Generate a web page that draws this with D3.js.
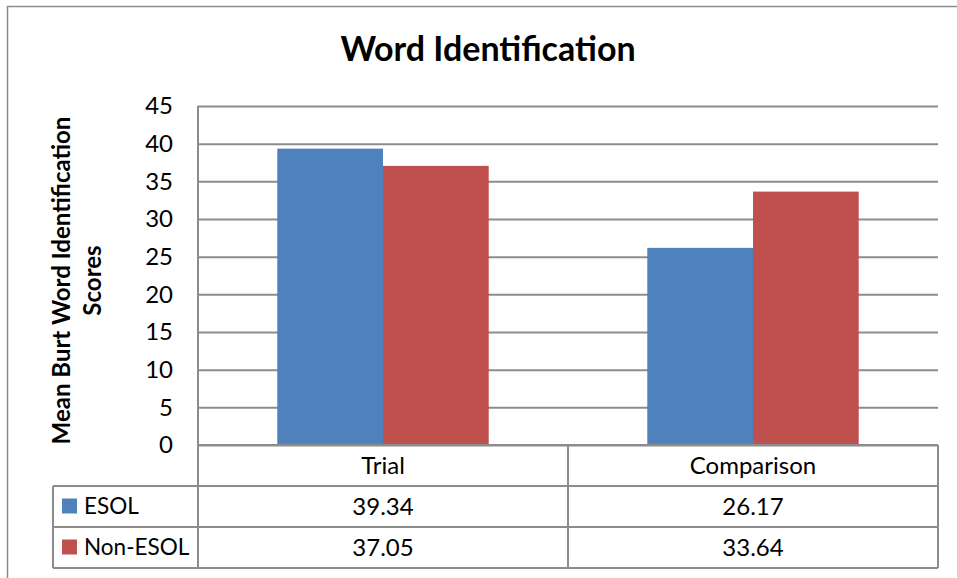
<!DOCTYPE html>
<html>
<head>
<meta charset="utf-8">
<script src="https://cdn.jsdelivr.net/npm/d3@7"></script>
<style>
  body { margin: 0; background: #fff; }
  svg { display: block; font-family: Lato, "Open Sans", sans-serif; }
</style>
</head>
<body>
<script>
// data
var categories = ["Trial", "Comparison"];
var seriesNames = ["ESOL", "Non-ESOL"];
var esolValues = [39.34, 26.17];
var nonEsolValues = [37.05, 33.64];
var yTicks = [0, 5, 10, 15, 20, 25, 30, 35, 40, 45];
var colors = ["#4f81bd", "#c0504d"];

var width = 957,
    height = 578,
    svg = d3.select("body").append("svg")
      .attr("width", width)
      .attr("height", height);

var grey = "#8c8c8c";
var plot = {left: 198, right: 938, top: 106, bottom: 445};
var rowH = 41;
var fs = "24px";

var table = categories.map(function(c, i) {
  return {cat: c, values: [esolValues[i], nonEsolValues[i]]};
});

// outer chart frame (cut off at right / bottom)
svg.append("rect")
    .attr("x", 7.5).attr("y", 6.5)
    .attr("width", 1000).attr("height", 1000)
    .attr("fill", "#fff")
    .attr("stroke", grey)
    .attr("stroke-width", 1.5);

var x0 = d3.scaleBand()
    .domain(categories)
    .range([plot.left, plot.right]);

var x1 = d3.scaleBand()
    .domain(seriesNames)
    .range([0, x0.bandwidth()])
    .paddingOuter(0.75);

var y = d3.scaleLinear()
    .domain([0, 45])
    .range([plot.bottom, plot.top]);

// gridlines + tick labels
var yAxis = svg.append("g")
    .attr("transform", "translate(" + plot.left + ",0)")
    .call(d3.axisLeft(y)
      .tickValues(yTicks)
      .tickSize(-(plot.right - plot.left))
      .tickPadding(25)
      .tickFormat(d3.format("d")));
yAxis.select(".domain").remove();
yAxis.selectAll(".tick line")
    .attr("stroke", grey)
    .attr("stroke-width", 2);
yAxis.selectAll(".tick text")
    .attr("fill", "#000")
    .style("font-size", fs)
    .style("font-family", "Lato, sans-serif");

// plot left edge
svg.append("line")
    .attr("x1", plot.left).attr("x2", plot.left)
    .attr("y1", plot.top).attr("y2", plot.bottom)
    .attr("stroke", grey).attr("stroke-width", 2);

// bars
svg.append("g").selectAll("g")
  .data(table)
  .join("g")
    .attr("transform", function(d) { return "translate(" + x0(d.cat) + ",0)"; })
  .selectAll("rect")
  .data(function(d) { return d.values.map(function(v, i) { return {s: seriesNames[i], v: v, i: i}; }); })
  .join("rect")
    .attr("x", function(d) { return x1(d.s); })
    .attr("width", x1.bandwidth())
    .attr("y", function(d) { return y(d.v); })
    .attr("height", function(d) { return y(0) - y(d.v); })
    .attr("fill", function(d) { return colors[d.i]; });

// baseline
svg.append("line")
    .attr("x1", plot.left).attr("x2", plot.right)
    .attr("y1", plot.bottom).attr("y2", plot.bottom)
    .attr("stroke", grey).attr("stroke-width", 2);

// data table
var tbl = svg.append("g").attr("stroke", grey).attr("stroke-width", 2);
var tLeft = 53;
var rows = [plot.bottom, plot.bottom + rowH, plot.bottom + 2 * rowH, plot.bottom + 3 * rowH];
rows.slice(1).forEach(function(ry) {
  tbl.append("line").attr("x1", tLeft).attr("x2", plot.right).attr("y1", ry).attr("y2", ry);
});
tbl.append("line").attr("x1", tLeft).attr("x2", tLeft).attr("y1", rows[1]).attr("y2", rows[3]);
var colEdges = [plot.left].concat(categories.map(function(c) { return x0(c) + x0.bandwidth(); }));
colEdges.forEach(function(cx) {
  tbl.append("line").attr("x1", cx).attr("x2", cx).attr("y1", rows[0]).attr("y2", rows[3]);
});

var cellText = svg.append("g")
    .style("font-size", fs)
    .attr("fill", "#000")
    .attr("text-anchor", "middle");

categories.forEach(function(c) {
  cellText.append("text")
      .attr("x", x0(c) + x0.bandwidth() / 2)
      .attr("y", rows[0] + rowH / 2)
      .attr("dy", "0.35em")
      .text(c);
});

table.forEach(function(d) {
  d.values.forEach(function(v, i) {
    cellText.append("text")
        .attr("x", x0(d.cat) + x0.bandwidth() / 2)
        .attr("y", rows[i + 1] + rowH / 2)
        .attr("dy", "0.35em")
        .text(d3.format(".2f")(v));
  });
});

// legend keys in the table
seriesNames.forEach(function(s, i) {
  var ry = rows[i + 1] + rowH / 2;
  svg.append("rect")
      .attr("x", 62).attr("y", ry - 8)
      .attr("width", 15).attr("height", 15)
      .attr("fill", colors[i]);
  svg.append("text")
      .attr("x", 84).attr("y", ry)
      .attr("dy", "0.35em")
      .style("font-size", "22.5px")
      .text(s);
});

// title
svg.append("text")
    .attr("x", 488).attr("y", 61)
    .attr("text-anchor", "middle")
    .style("font-size", "34px")
    .style("font-weight", "bold")
    .text("Word Identification");

// y axis title
var yt = svg.append("text")
    .attr("transform", "translate(0," + ((plot.top + plot.bottom) / 2 + 5) + ") rotate(-90)")
    .attr("text-anchor", "middle")
    .style("font-size", "24px")
    .style("font-weight", "bold");
yt.append("tspan").attr("x", 0).attr("y", 70).text("Mean Burt Word Identification");
yt.append("tspan").attr("x", 0).attr("y", 101).text("Scores");
</script>
</body>
</html>
